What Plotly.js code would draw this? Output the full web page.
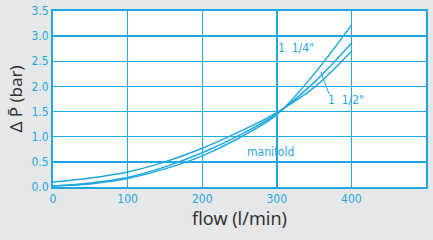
<!DOCTYPE html>
<html><head><meta charset="utf-8">
<script src="https://cdn.plot.ly/plotly-3.0.1.min.js"></script>
<style>html,body{margin:0;padding:0;background:#e6e7e8;}#c{width:433px;height:240px;}</style>
</head><body><div id="c"></div>
<script>
var flow = [0, 50, 100, 150, 200, 250, 300, 350, 400];
var manifold = [0.10, 0.18, 0.30, 0.50, 0.77, 1.10, 1.48, 1.98, 2.70];
var inch112 = [0.02, 0.08, 0.19, 0.40, 0.68, 1.03, 1.46, 2.08, 2.86];
var inch114 = [0.02, 0.06, 0.17, 0.36, 0.62, 0.98, 1.44, 2.25, 3.22];
var xTicks = [0, 100, 200, 300, 400, 500];
var yTicks = [0.0, 0.5, 1.0, 1.5, 2.0, 2.5, 3.0, 3.5];
var blue = '#1fa8e0';
function tr(y, name){return {x: flow, y: y, name: name, mode: 'lines', line: {color: blue, width: 1.5, shape: 'spline', smoothing: 1}, hoverinfo: 'skip'};}
var data = [tr(manifold, 'manifold'), tr(inch112, '1 1/2"'), tr(inch114, '1 1/4"')];
var tickFont = {family: 'DejaVu Sans Condensed, DejaVu Sans', size: 12, color: blue};
var layout = {
  width: 433, height: 240,
  margin: {l: 53, r: 7, t: 11, b: 53},
  paper_bgcolor: '#e6e7e8', plot_bgcolor: '#ffffff',
  showlegend: false,
  font: {family: 'Roboto, DejaVu Sans'},
  xaxis: {range: [0, 500], tickvals: xTicks, ticktext: xTicks.map(String), tickfont: tickFont,
    showgrid: true, gridcolor: blue, gridwidth: 1.4, zeroline: false,
    showline: true, linecolor: blue, linewidth: 2, mirror: true, ticks: '', ticklen: 0,
    title: {text: 'flow (l/min)', font: {family: 'Noto Sans, DejaVu Sans', size: 18, color: '#333333'}, standoff: 6}},
  yaxis: {range: [0, 3.5], tickvals: yTicks, ticktext: yTicks.map(function(v){return v.toFixed(1);}), tickfont: tickFont,
    showgrid: true, gridcolor: blue, gridwidth: 1.4, zeroline: false,
    showline: true, linecolor: blue, linewidth: 2, mirror: true, ticks: '',
    title: {text: 'Δ P\u0304 (bar)', font: {family: 'Noto Sans, DejaVu Sans', size: 17, color: '#333333'}, standoff: 4}},
  annotations: [
    {x: 326, y: 2.76, text: '1  1/4"', showarrow: false, font: {family: 'DejaVu Sans Condensed, DejaVu Sans', size: 12, color: blue}},
    {x: 393, y: 1.73, text: '1  1/2"', showarrow: false, font: {family: 'DejaVu Sans Condensed, DejaVu Sans', size: 12, color: blue}},
    {x: 291, y: 0.70, text: 'manifold', showarrow: false, font: {family: 'DejaVu Sans Condensed, DejaVu Sans', size: 12, color: blue}}
  ],
  shapes: [
    {type: 'line', xref: 'x', yref: 'y', x0: 370, y0: 1.85, x1: 359, y1: 2.29, line: {color: blue, width: 1}}
  ]
};
Plotly.newPlot('c', data, layout, {staticPlot: true, displayModeBar: false});
</script></body></html>
